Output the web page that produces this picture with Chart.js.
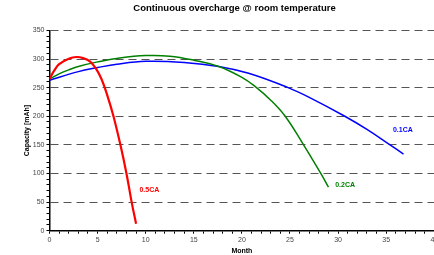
<!DOCTYPE html>
<html>
<head>
<meta charset="utf-8">
<script src="https://cdn.jsdelivr.net/npm/chart.js@4/dist/chart.umd.min.js"></script>
<style>
    html, body { margin: 0; padding: 0; background: #fff; overflow: hidden; }
    /* wider than the window: the right edge of the plot is cut off like in the original */
    #wrap { position: relative; width: 469px; height: 255px; }
</style>
</head>
<body>
<div id="wrap"><canvas id="chart"></canvas></div>
<script>
// Capacity curves (month -> mAh)
const redMonths   = [0, 0.5, 1, 2, 2.8, 3.5, 4.2, 4.8, 5.4, 6.0, 6.65, 7.37, 8.0, 8.54, 9.0];
const redCap      = [265, 280, 291, 300.5, 303.5, 301.5, 296, 284, 265, 237, 200, 150, 100, 50, 12];
const greenMonths = [0, 1, 2, 3, 5, 7, 10, 12.5, 15, 17.6, 20, 21.3, 23, 24.5, 26.3, 28.2, 29];
const greenCap    = [265, 274, 281, 287, 295, 301, 306, 305, 298, 287, 268, 253, 228, 200, 153, 100, 76];
const blueMonths  = [0, 3, 5, 7, 10, 14, 17.6, 20.7, 24.8, 27, 30.7, 33, 35.4, 36.8];
const blueCap     = [263, 278, 285, 291, 296, 294, 287, 275, 250, 233, 200, 177, 150, 134];

const seriesNames = ['0.5CA', '0.2CA', '0.1CA'];
// where each series name sits, in data units (month, mAh)
const labelMonths = [9.35, 29.7, 35.7];
const labelCaps   = [71, 80, 176];

const xTitle = 'Month';
const xTitleAt = 20; // centred under the visible 0..40 range

const toPoints = (xs, ys) => xs.map((x, i) => ({ x: x, y: ys[i] }));

// Draws the series names next to their curves and the x axis title
const annotations = {
    id: 'annotations',
    afterDatasetsDraw(chart) {
        const { ctx, scales: { x, y } } = chart;
        ctx.save();
        ctx.font = 'bold 7px "Liberation Sans", Arial, sans-serif';
        ctx.textAlign = 'left';
        ctx.textBaseline = 'middle';
        chart.data.datasets.forEach((ds, i) => {
            ctx.fillStyle = ds.borderColor;
            ctx.fillText(seriesNames[i], x.getPixelForValue(labelMonths[i]), y.getPixelForValue(labelCaps[i]));
        });
        ctx.fillStyle = '#000';
        ctx.textAlign = 'center';
        ctx.fillText(xTitle, x.getPixelForValue(xTitleAt), x.bottom - 4.2);
        ctx.restore();
    }
};

const font = { family: '"Liberation Sans", Arial, sans-serif' };

new Chart(document.getElementById('chart'), {
    type: 'line',
    data: {
        datasets: [
            { label: seriesNames[0], data: toPoints(redMonths, redCap), borderColor: '#ff0000', borderWidth: 2.2 },
            { label: seriesNames[1], data: toPoints(greenMonths, greenCap), borderColor: '#008000', borderWidth: 1.5 },
            { label: seriesNames[2], data: toPoints(blueMonths, blueCap), borderColor: '#0000ff', borderWidth: 1.5 }
        ]
    },
    options: {
        responsive: true,
        maintainAspectRatio: false,
        animation: false,
        layout: { padding: 0 },
        elements: {
            point: { radius: 0 },
            line: { tension: 0.4, fill: false }
        },
        plugins: {
            legend: { display: false },
            tooltip: { enabled: false },
            title: {
                display: true,
                text: 'Continuous overcharge @ room temperature',
                color: '#000',
                font: { ...font, size: 9.5, weight: 'bold' },
                padding: { top: 3, bottom: 16 }
            }
        },
        scales: {
            x: {
                type: 'linear',
                min: 0,
                max: 43.4, // axis runs past the window edge; 40 lands right at the border
                afterFit: (scale) => { scale.height = 24.3; },
                border: { color: '#000', width: 1.5 },
                grid: { drawOnChartArea: false, tickLength: 3, tickColor: '#000' },
                ticks: {
                    stepSize: 1,
                    autoSkip: false,
                    maxRotation: 0,
                    padding: 2,
                    color: '#444',
                    font: { ...font, size: 7 },
                    callback: (v) => (v % 5 === 0 ? v : '')
                }
            },
            y: {
                min: 0,
                max: 350,
                afterFit: (scale) => { scale.width = 49.5; },
                border: { color: '#000', width: 1.5, dash: [8, 5] },
                grid: {
                    color: (c) => (c.tick && c.tick.value % 50 === 0 ? '#555' : 'transparent'),
                    lineWidth: 1,
                    tickLength: 3,
                    tickColor: '#000'
                },
                ticks: {
                    stepSize: 10,
                    autoSkip: false,
                    padding: 2,
                    color: '#444',
                    font: { ...font, size: 7 },
                    callback: (v) => (v % 50 === 0 ? v : '')
                },
                title: {
                    display: true,
                    text: 'Capacity [mAh]',
                    color: '#000',
                    font: { ...font, size: 7, weight: 'bold' },
                    padding: { top: 23, bottom: 2 }
                }
            }
        }
    },
    plugins: [annotations]
});
</script>
</body>
</html>
